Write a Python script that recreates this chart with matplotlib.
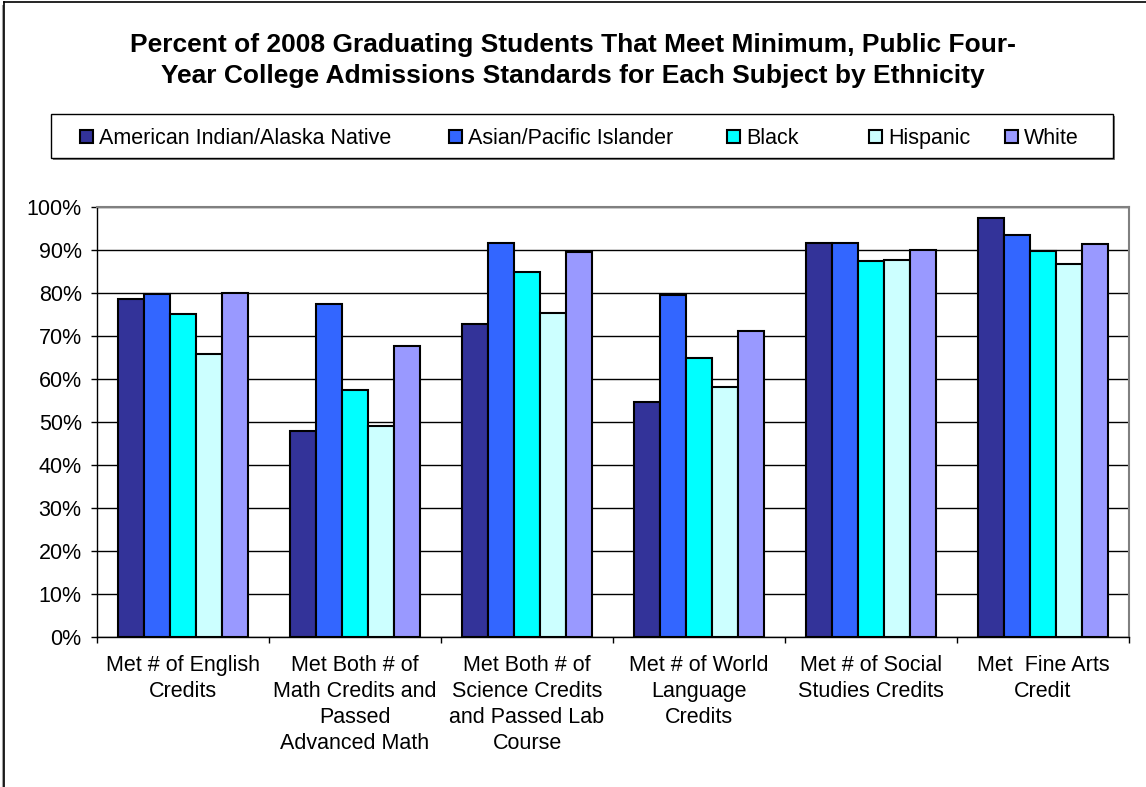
import matplotlib
matplotlib.use("Agg")
import matplotlib.pyplot as plt
import numpy as np
from matplotlib.lines import Line2D
from matplotlib.patches import Rectangle

plt.rcParams['font.family'] = ['Liberation Sans', 'DejaVu Sans']

categories = ["Met # of English\nCredits",
              "Met Both # of\nMath Credits and\nPassed\nAdvanced Math",
              "Met Both # of\nScience Credits\nand Passed Lab\nCourse",
              "Met # of World\nLanguage\nCredits",
              "Met # of Social\nStudies Credits",
              "Met  Fine Arts\nCredit"]
groups = ["American Indian/Alaska Native", "Asian/Pacific Islander", "Black", "Hispanic", "White"]
am_indian = [78.6, 47.9, 72.8, 54.7, 91.6, 97.3]
asian = [79.7, 77.4, 91.5, 79.4, 91.6, 93.4]
black = [75.0, 57.3, 84.8, 64.8, 87.4, 89.8]
hispanic = [65.7, 49.0, 75.3, 58.2, 87.7, 86.7]
white = [79.9, 67.7, 89.5, 71.2, 90.0, 91.4]
yticks = [0, 10, 20, 30, 40, 50, 60, 70, 80, 90, 100]

colors = ["#333399", "#3366FF", "#00FFFF", "#CCFFFF", "#9999FF"]
series = [am_indian, asian, black, hispanic, white]

W, H = 1146, 787
fig = plt.figure(figsize=(W / 100, H / 100), dpi=100)
ax = fig.add_axes([97 / W, 1 - 637 / H, (1129 - 97) / W, (637 - 206.7) / H])

x = np.arange(len(categories))
bw = 0.151
for j, (vals, c) in enumerate(zip(series, colors)):
    ax.bar(x + (j - 2) * bw, vals, bw, color=c, edgecolor="black",
           linewidth=1.5, zorder=3)

ax.set_xlim(-0.5, len(categories) - 0.5)
ax.set_ylim(0, 100)
ax.set_yticks(yticks)
ax.set_yticklabels([f"{v}%" for v in yticks])
ax.yaxis.grid(True, color="black", linewidth=1)
ax.set_axisbelow(True)

ax.set_xticks(x)
ax.set_xticklabels(categories, linespacing=1.32)
ax.set_xticks(np.arange(-0.5, len(categories)), minor=True)
ax.tick_params(axis="x", which="major", length=0, pad=13, labelsize=15.5)
ax.tick_params(axis="x", which="minor", length=4, width=1, direction="out")
ax.tick_params(axis="y", length=4, width=1, pad=7, labelsize=15.5)

for s in ["top", "right"]:
    ax.spines[s].set_color("#808080")
    ax.spines[s].set_linewidth(1.5)
for s in ["left", "bottom"]:
    ax.spines[s].set_color("black")
    ax.spines[s].set_linewidth(1)

# title
fig.text(0.5, 1 - 45 / H, "Percent of 2008 Graduating Students That Meet Minimum, Public Four-",
         ha="center", va="center", fontsize=19, fontweight="bold")
fig.text(0.5, 1 - 76 / H, "Year College Admissions Standards for Each Subject by Ethnicity",
         ha="center", va="center", fontsize=19, fontweight="bold")

# legend box
fig.patches.append(Rectangle((53 / W, 1 - 160 / H), (1113 - 51) / W, 44 / H,
                             transform=fig.transFigure, facecolor="#808080",
                             edgecolor="none", zorder=1))
fig.patches.append(Rectangle((51 / W, 1 - 158 / H), (1113 - 51) / W, 44 / H,
                             transform=fig.transFigure, facecolor="white",
                             edgecolor="black", linewidth=1, zorder=2))
leg_x = [80, 449, 727, 869, 1005]
leg_y = 136.5
for lx, name, c in zip(leg_x, groups, colors):
    fig.patches.append(Rectangle((lx / W, 1 - (leg_y + 6.5) / H), 13 / W, 13 / H,
                                 transform=fig.transFigure, facecolor=c,
                                 edgecolor="black", linewidth=1.5, zorder=3))
    fig.text((lx + 19) / W, 1 - (leg_y + 7.5) / H, name, ha="left", va="baseline",
             fontsize=15.5, zorder=4)

# outer chart frame (left and top edges)
fig.add_artist(Line2D([2.5 / W, 2.5 / W], [0, 1 - 6 / H], color="#a0a0a0", linewidth=1.5,
                      transform=fig.transFigure))
fig.add_artist(Line2D([4 / W, 4 / W], [0, 1 - 2 / H], color="black", linewidth=1.2,
                      transform=fig.transFigure))
fig.add_artist(Line2D([4 / W, 1], [1 - 2 / H, 1 - 2 / H], color="black", linewidth=1.2,
                      transform=fig.transFigure))

fig.savefig("out.png", dpi=100)
